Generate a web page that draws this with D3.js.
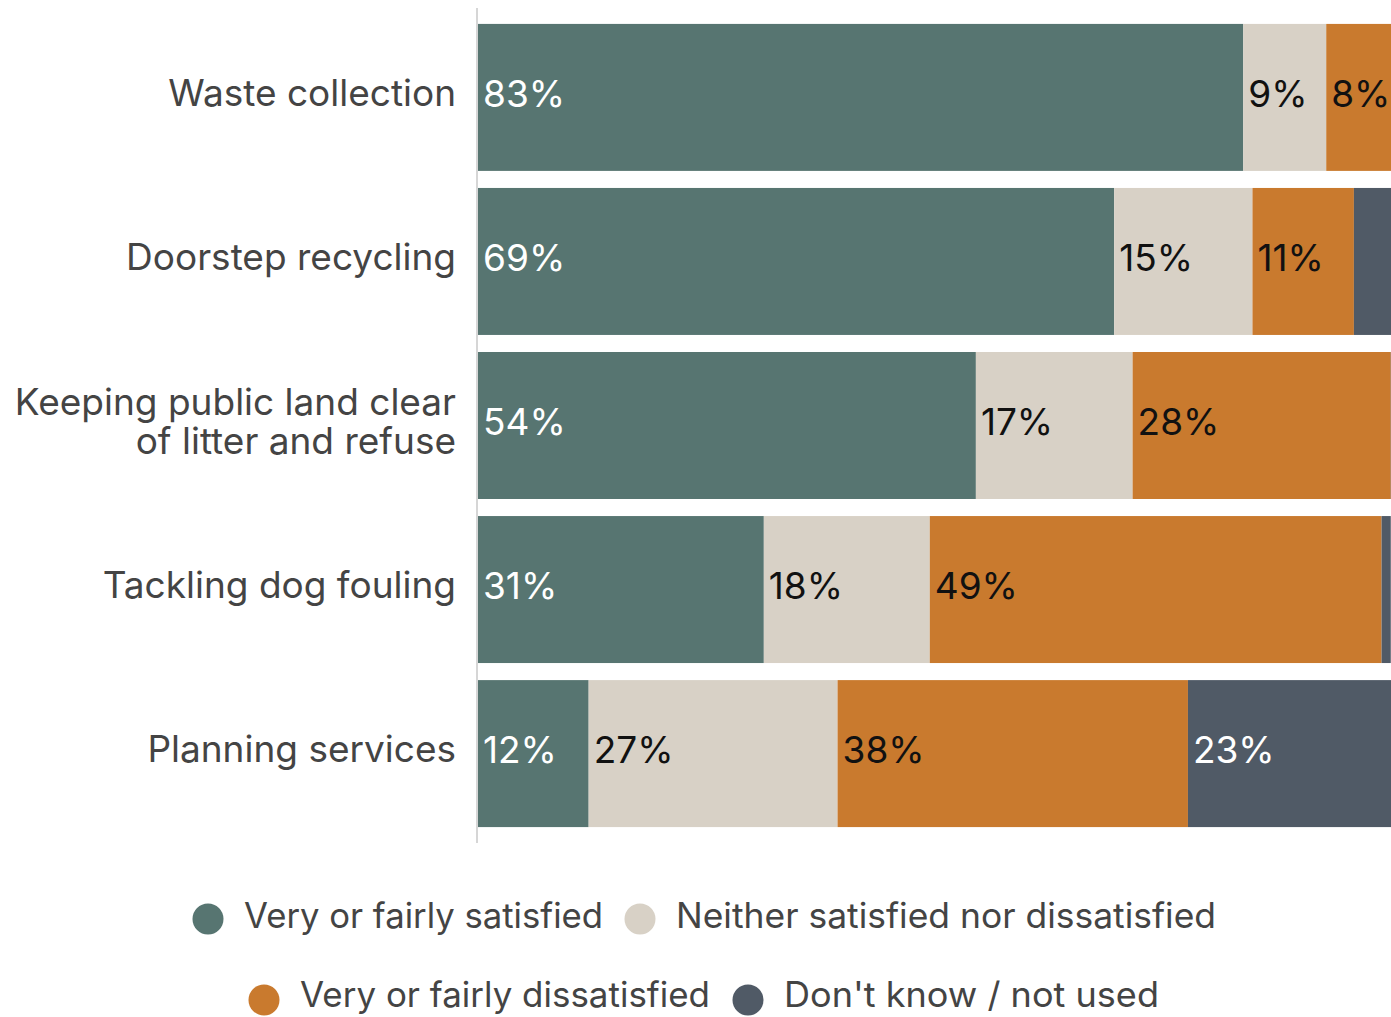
<!DOCTYPE html>
<html>
<head>
<meta charset="utf-8">
<script src="https://cdn.jsdelivr.net/npm/d3@7"></script>
<style>
  html, body { margin: 0; padding: 0; background: #fff; }
  svg { display: block; font-family: Inter, Roboto, "Noto Sans", sans-serif; }
</style>
</head>
<body>
<svg id="chart" width="1391" height="1017"></svg>
<script>
// Service areas, top to bottom
const services = [
  "Waste collection",
  "Doorstep recycling",
  "Keeping public land clear\nof litter and refuse",
  "Tackling dog fouling",
  "Planning services"
];

// Response shares (%) per service
const satisfied    = [83, 69, 54, 31, 12];
const neither      = [9, 15, 17, 18, 27];
const dissatisfied = [8, 11, 28, 49, 38];
const dontKnow     = [0, 5, 1, 1, 23];

const seriesNames = [
  "Very or fairly satisfied",
  "Neither satisfied nor dissatisfied",
  "Very or fairly dissatisfied",
  "Don't know / not used"
];
const seriesColors = ["#577571", "#d8d1c6", "#c97a2e", "#505a66"];
const labelColors  = ["#ffffff", "#111111", "#111111", "#ffffff"];

const keys = ["sat", "nei", "dis", "dk"];
const rows = services.map((s, i) => ({
  service: s,
  sat: satisfied[i],
  nei: neither[i],
  dis: dissatisfied[i],
  dk: dontKnow[i]
}));

const svg = d3.select("#chart");

const x = d3.scaleLinear().domain([0, 100]).range([478, 1400]);
const y = d3.scaleBand()
  .domain(services)
  .range([8, 843])
  .paddingInner(0.104)
  .paddingOuter(0.097);

const stacked = d3.stack().keys(keys)(rows);

// Bars
const layers = svg.append("g").selectAll("g")
  .data(stacked)
  .join("g")
  .attr("fill", (d, i) => seriesColors[i]);

layers.selectAll("rect")
  .data(d => d.map(v => ({ v, key: d.key })))
  .join("rect")
  .attr("x", d => x(d.v[0]))
  .attr("y", d => y(d.v.data.service))
  .attr("width", d => x(d.v[1]) - x(d.v[0]))
  .attr("height", y.bandwidth());

// Value labels inside the segments
stacked.forEach((layer, li) => {
  svg.append("g").selectAll("text")
    .data(layer.filter(v => (v[1] - v[0]) >= 6))
    .join("text")
    .attr("x", v => x(v[0]) + 5)
    .attr("y", v => y(v.data.service) + y.bandwidth() / 2)
    .attr("dy", "0.26em")
    .attr("fill", labelColors[li])
    .attr("font-size", 37)
    .text(v => `${v[1] - v[0]}%`);
});

// Category axis
const axis = d3.axisLeft(y).tickSize(0).tickPadding(22);
const axisG = svg.append("g")
  .attr("transform", `translate(${x(0)},0)`)
  .call(axis);
axisG.select(".domain")
  .attr("d", `M0,8V843`)
  .attr("stroke", "#d6d6d6")
  .attr("stroke-width", 2)
  .attr("transform", "translate(-1,0)");
axisG.selectAll(".tick text")
  .attr("font-size", 37)
  .attr("fill", "#444")
  .attr("font-family", "Inter, Roboto, sans-serif")
  .each(function (d) {
    const lines = d.split("\n");
    const t = d3.select(this).text(null);
    const lh = 39;
    lines.forEach((ln, k) => {
      t.append("tspan")
        .attr("x", -22)
        .attr("dy", k === 0 ? `${0.23 - (lines.length - 1) * 0.5 * lh / 37}em` : `${lh}px`)
        .text(ln);
    });
  });

// Legend (two rows)
const legendRows = [
  [{ i: 0, cx: 208 }, { i: 1, cx: 640 }],
  [{ i: 2, cx: 264 }, { i: 3, cx: 748 }]
];
const legendDotY = [919, 1000];
const legendBaseline = [928, 1007];
const legendWidths = [359, 540, 410, 375];
legendRows.forEach((row, r) => {
  const g = svg.append("g");
  row.forEach(item => {
    g.append("circle")
      .attr("cx", item.cx)
      .attr("cy", legendDotY[r])
      .attr("r", 15.5)
      .attr("fill", seriesColors[item.i]);
    g.append("text")
      .attr("x", item.cx + 36)
      .attr("y", legendBaseline[r])
      .attr("font-size", 35)
      .attr("fill", "#444")
      .attr("textLength", legendWidths[item.i])
      .attr("lengthAdjust", "spacingAndGlyphs")
      .text(seriesNames[item.i]);
  });
});
</script>
</body>
</html>
